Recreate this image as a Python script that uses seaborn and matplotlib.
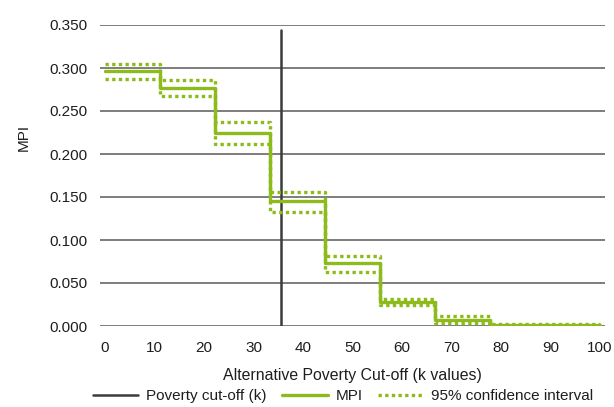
import pandas as pd
import matplotlib
matplotlib.use("Agg")
import matplotlib.pyplot as plt
import seaborn as sns

# Daten: Stufenfunktion der MPI ueber alternative Cut-offs k
k_values = [0, 11.1, 22.2, 33.3, 44.4, 55.6, 66.7, 77.8, 100]
mpi = [0.296, 0.277, 0.224, 0.145, 0.073, 0.028, 0.007, 0.001, 0.001]
ci_upper = [0.305, 0.286, 0.237, 0.156, 0.081, 0.031, 0.012, 0.002, 0.002]
ci_lower = [0.287, 0.268, 0.212, 0.132, 0.063, 0.025, 0.004, 0.000, 0.000]
cutoff_k = 35.5
cutoff_top = 0.344

y_ticks = [0.0, 0.05, 0.10, 0.15, 0.20, 0.25, 0.30, 0.35]
x_ticks = [0, 10, 20, 30, 40, 50, 60, 70, 80, 90, 100]

df = pd.DataFrame({"k": k_values, "MPI": mpi, "upper": ci_upper, "lower": ci_lower})

sns.set_style("white")
plt.rcParams['font.family'] = ['Liberation Sans', 'DejaVu Sans']

GREEN = "#8dbb1c"
GRID = "#737373"
TXT = "#1e1e1e"
FS = 11

fig = plt.figure(figsize=(6.14, 4.07), dpi=100)
ax = fig.add_axes([100 / 614, 1 - 326 / 407, 505 / 614, 301 / 407])

for y in y_ticks:
    ax.axhline(y, color=GRID, lw=1.3, zorder=0)

ax.axvline(cutoff_k, ymin=0, ymax=cutoff_top / 0.35, color="#3c3c3c", lw=1.8,
           label="Poverty cut-off (k)", zorder=1)

sns.lineplot(data=df, x="k", y="MPI", ax=ax, color=GREEN, lw=2.4,
             drawstyle="steps-post", label="MPI", zorder=3)
sns.lineplot(data=df, x="k", y="upper", ax=ax, color=GREEN, lw=2.4,
             drawstyle="steps-post", linestyle=(0, (1, 1)),
             label="95% confidence interval", zorder=2)
sns.lineplot(data=df, x="k", y="lower", ax=ax, color=GREEN, lw=2.4,
             drawstyle="steps-post", linestyle=(0, (1, 1)), zorder=2)

ax.set_xlim(-1.01, 101.01)
ax.set_ylim(0, 0.35)
ax.set_xticks(x_ticks)
ax.set_yticks(y_ticks)
ax.set_yticklabels([f"{v:.3f}" for v in y_ticks])
ax.tick_params(axis="both", length=0, labelsize=FS, colors=TXT)
ax.tick_params(axis="x", pad=11)
ax.tick_params(axis="y", pad=9)
for s in ax.spines.values():
    s.set_visible(False)

ax.set_xlabel("Alternative Poverty Cut-off (k values)", fontsize=FS + 0.4, color=TXT, labelpad=9)
ax.set_ylabel("")
fig.text(24 / 614, 1 - 137 / 407, "MPI", rotation=90, fontsize=FS, color=TXT,
         ha="center", va="center")

ax.get_legend().remove()
handles, labels = ax.get_legend_handles_labels()
leg = fig.legend(handles, labels, loc="center", bbox_to_anchor=(343 / 614, 1 - 396 / 407),
                 ncol=3, frameon=False, fontsize=FS, handlelength=3.0, columnspacing=1.0,
                 handletextpad=0.5, borderpad=0.1)
for t in leg.get_texts():
    t.set_color(TXT)

fig.savefig("out.png", dpi=100)
